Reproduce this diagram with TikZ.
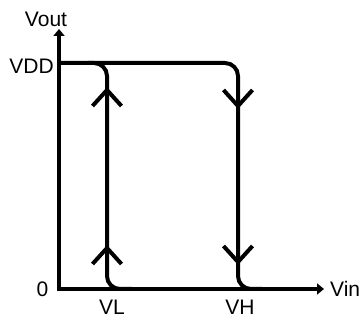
\documentclass[tikz,border=0pt]{standalone}
\usepackage{fontspec}
\setmainfont{Liberation Sans}
\usetikzlibrary{arrows.meta}
\begin{document}
\begin{tikzpicture}[x=1pt,y=-1pt,
  axisline/.style={line width=4.2pt,-{Triangle[length=7pt,width=11pt]}},
  loopline/.style={line width=4pt,rounded corners=13pt},
  chevron/.style={line width=4pt},
  lbl/.style={inner sep=0pt,font=\fontsize{21}{25}\selectfont}]
\useasboundingbox (0,0) rectangle (362,320);
% key points
\coordinate (O) at (59,289);
\coordinate (ytop) at (59,29);
\coordinate (xend) at (324,289);
\coordinate (vddL) at (59,63);
\coordinate (vlTop) at (107,63);
\coordinate (vlBot) at (107,289);
\coordinate (vhTop) at (238,63);
\coordinate (vhBot) at (238,289);
% axes
\draw[axisline] (59,291) -- (ytop);
\draw[axisline] (57,289) -- (xend);
% hysteresis loop
\draw[loopline] (vddL) -- (vhTop) -- (vhBot) -- (262,289);
\draw[loopline] (88,63) -- (vlTop) -- (vlBot) -- (132,289);
% chevrons on VL (up)
\draw[chevron] (92.5,106) -- (107,90) -- (121.5,106);
\draw[chevron] (92.5,264) -- (107,248) -- (121.5,264);
% chevrons on VH (down)
\draw[chevron] (223.5,90) -- (238,106) -- (252.5,90);
\draw[chevron] (223.5,246) -- (238,262) -- (252.5,246);
% labels
\node[lbl] (vout) at (46,19) {Vout};
\node[lbl,anchor=east] (vdd) at (54,66) {VDD};
\node[lbl] (zero) at (42.5,289.5) {0};
\node[lbl] (vl) at (112,307) {VL};
\node[lbl] (vh) at (240,307) {VH};
\node[lbl,anchor=west] (vin) at (330,289) {Vin};
\end{tikzpicture}
\end{document}
